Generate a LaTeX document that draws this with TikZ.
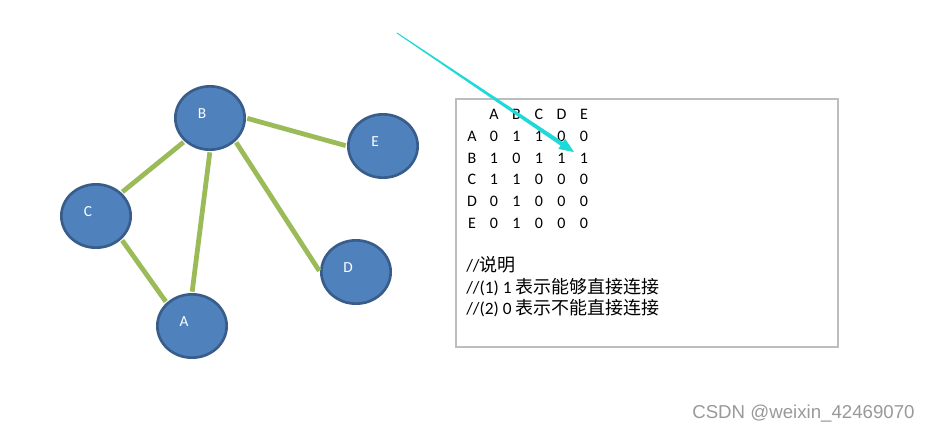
\documentclass[tikz,border=0pt]{standalone}
\usepackage{fontspec}
\setmainfont{Carlito}
\newfontfamily\cjkfont{Noto Sans CJK SC}
\newfontfamily\markfont{Liberation Sans}
\usepackage{tikz}
\usetikzlibrary{shapes.geometric}
\usetikzlibrary{arrows.meta}
\definecolor{vtxfill}{HTML}{4F81BD}
\definecolor{vtxdraw}{HTML}{385D8A}
\definecolor{edgegreen}{HTML}{9BBB59}
\definecolor{arrowcyan}{HTML}{1FD8D8}
\definecolor{boxgray}{HTML}{BDBDBD}
\newcommand{\cjk}[1]{{\cjkfont\fontsize{13.5}{15}\selectfont #1}}
\tikzstyle{link} = [draw=edgegreen, line width=3.6pt, shorten <=1pt, shorten >=1pt]
\tikzstyle{cell} = [inner sep=0pt, font=\fontsize{12}{14}\selectfont]
\tikzstyle{note} = [inner sep=0pt, anchor=west, font=\fontsize{13}{15}\selectfont]
\tikzset{vertex/.style={ellipse, draw=vtxdraw, fill=vtxfill, line width=2pt,
    minimum width=52pt, minimum height=47.5pt,
    label={[text=white, font=\fontsize{11.5}{13}\selectfont, xshift=-6pt, yshift=3.4pt]center:#1}}}

\begin{document}
\begin{tikzpicture}[x=0.75pt, y=-0.75pt]
  \useasboundingbox (0,0) rectangle (939,433);
  % graph nodes
  \node [vertex=B] (B) at (210,118) {};
  \node [vertex=E] (E) at (383,146) {};
  \node [vertex=C] (C) at (96,216) {};
  \node [vertex=D] (D) at (356,272) {};
  \node [vertex=A] (A) at (192,326) {};
  % edges
  \path [link] (B.east) -- (E.west);
  \path [link] (B.south west) -- (C.north east);
  \path [link] (B.south) -- (A.north);
  \path [link] (B.south east) -- (D.west);
  \path [link] (C.south east) -- (A.north west);
  % adjacency matrix
  \node [draw=boxgray, line width=1.5pt, minimum width=286pt, minimum height=186pt] (infobox) at (647,222.5) {};
  \foreach \c [count=\i] in {A,B,C,D,E}
    \node [cell] (head\c) at ({471.5+22.5*\i},114) {\c};
  \foreach \r/\y/\vals in {A/136/{0,1,1,0,0}, B/158/{1,0,1,1,1}, C/179/{1,1,0,0,0}, D/201/{0,1,0,0,0}, E/223/{0,1,0,0,0}} {
    \node [cell] (row\r) at (472,\y) {\r};
    \foreach \v [count=\i] in \vals
      \node [cell] (m\r\i) at ({471.5+22.5*\i},\y) {\v};
  }
  % notes
  \node [note] (note1) at (466,265) {//\cjk{说明}};
  \node [note] (note2) at (466,287) {//(1) 1 \cjk{表示能够直接连接}};
  \node [note] (note3) at (466,308) {//(2) 0 \cjk{表示不能直接连接}};
  % pointer, thin at the start and wider near the head
  \coordinate (arrowstart) at (397,33);
  \coordinate (arrowneck) at (562,144);
  \coordinate (arrowend) at (574,152);
  \fill [arrowcyan] ([shift={(-0.3,0.4)}]arrowstart) -- ([shift={(0.3,-0.4)}]arrowstart)
    -- ([shift={(1.2,-1.8)}]arrowneck) -- ([shift={(-1.2,1.8)}]arrowneck) -- cycle;
  \draw [arrowcyan, line width=0.5pt, -{Triangle[length=11pt,width=9pt]}] (arrowneck) -- (arrowend);
  % watermark
  \node [anchor=west, inner sep=0pt, text=black!40, font=\markfont\fontsize{14}{16}\selectfont] (mark) at (692,414) {CSDN @weixin\_42469070};
\end{tikzpicture}
\end{document}
